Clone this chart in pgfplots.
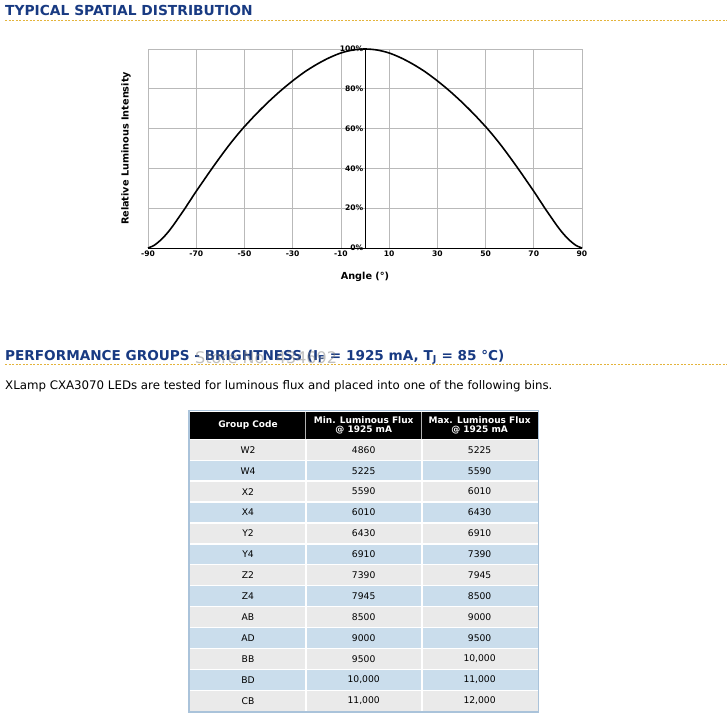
\documentclass[border=0pt]{standalone}
\usepackage{pgfplots}
\pgfplotsset{compat=1.18}
\usepackage{fontspec}
\setmainfont{DejaVu Sans}
\definecolor{titleblue}{RGB}{24,58,130}
\definecolor{gold}{RGB}{228,180,60}
\definecolor{rowgray}{RGB}{234,234,234}
\definecolor{rowblue}{RGB}{202,221,236}
\definecolor{tframe}{RGB}{170,195,218}
\definecolor{gridgray}{RGB}{185,185,185}
\begin{document}
\begin{tikzpicture}[x=1pt,y=1pt]
\useasboundingbox (0,0) rectangle (727,-719);
% Title 1
\node[anchor=base west,inner sep=0,text=titleblue,font=\fontsize{13.8}{16}\selectfont\bfseries] at (5,-15.7) {TYPICAL SPATIAL DISTRIBUTION};
\draw[gold,line width=0.8pt,dash pattern=on 2pt off 1.5pt] (5,-20.7) -- (727,-20.7);
% Chart
\begin{axis}[
  at={(148pt,-248pt)}, anchor=south west,
  scale only axis, width=434pt, height=199pt,
  xmin=-90, xmax=90, ymin=0, ymax=100,
  xtick={-90,-70,-50,-30,-10,10,30,50,70,90},
  xticklabels={-90,-70,-50,-30,-10,10,30,50,70,90},
  ytick={0,20,40,60,80,100},
  yticklabels={0\%,20\%,40\%,60\%,80\%,100\%},
  yticklabel style={xshift=217pt,inner sep=1.5pt},
  xticklabel style={inner sep=2.5pt},
  major tick length=0pt,
  grid=major,
  grid style={gridgray,line width=0.6pt},
  axis line style={gridgray,line width=0.8pt},
  tick label style={font=\fontsize{7.6}{8.5}\selectfont\bfseries},
  xlabel={Angle (°)},
  ylabel={Relative Luminous Intensity},
  label style={font=\fontsize{9.7}{11}\selectfont\bfseries},
  xlabel style={at={(axis description cs:0.5,-0.146)},anchor=center},
  ylabel style={at={(axis description cs:-0.0507,0.5)},anchor=center},
  clip=false,
]
\addplot[black,line width=0.9pt] coordinates {(-90,0) (90,0)};
\addplot[black,line width=0.9pt] coordinates {(0,0) (0,100)};
\addplot[black,line width=1.6pt,smooth] coordinates {
(-90,0) (-87.5,1.3) (-85,3.7) (-82.5,6.8) (-80,10.6) (-77.5,14.9) (-75,19.3) (-72.5,23.9) (-70,28.5) (-67.5,32.9) (-65,37.3) (-62.5,41.6) (-60,45.8) (-57.5,49.9) (-55,53.8) (-52.5,57.5) (-50,61) (-45,67.5) (-40,73.5) (-35,79) (-30,84) (-25,88.5) (-20,92.3) (-15,95.5) (-10,98) (-5,99.5) (0,100)
(5,99.5) (10,98) (15,95.5) (20,92.3) (25,88.5) (30,84) (35,79) (40,73.5) (45,67.5) (50,61) (52.5,57.5) (55,53.8) (57.5,49.9) (60,45.8) (62.5,41.6) (65,37.3) (67.5,32.9) (70,28.5) (72.5,23.9) (75,19.3) (77.5,14.9) (80,10.6) (82.5,6.8) (85,3.7) (87.5,1.3) (90,0)};
\end{axis}
% Title 2
\node[anchor=base west,inner sep=0,text=titleblue,font=\fontsize{13.6}{16}\selectfont\bfseries] at (5,-360.7) {PERFORMANCE GROUPS - BRIGHTNESS (I\textsubscript{F} = 1925 mA, T\textsubscript{J} = 85 °C)};
\draw[gold,line width=0.8pt,dash pattern=on 2pt off 1.5pt] (5,-364.8) -- (727,-364.8);
\node[anchor=base west,inner sep=0,text=gray,opacity=0.5,font=\fontsize{16}{18}\selectfont] at (195,-363) {Store No. 434692};
\node[anchor=base west,inner sep=0,font=\fontsize{11.8}{13}\selectfont] at (5,-389.5) {XLamp CXA3070 LEDs are tested for luminous flux and placed into one of the following bins.};
% Table
\fill[black] (190,-411.5) rectangle (537.5,-439.3);
\draw[gray!60,line width=1.2pt] (305.7,-411.5) -- (305.7,-439.3);
\draw[gray!60,line width=1.2pt] (421.7,-411.5) -- (421.7,-439.3);
\node[text=white,font=\fontsize{9}{10}\selectfont\bfseries,align=center] at (248,-425.4) {Group Code};
\node[text=white,font=\fontsize{9}{9.6}\selectfont\bfseries,align=center] at (363.7,-425.4) {Min. Luminous Flux\\@ 1925 mA};
\node[text=white,font=\fontsize{9}{9.6}\selectfont\bfseries,align=center] at (479.6,-425.4) {Max. Luminous Flux\\@ 1925 mA};
\foreach \g/\mn/\mx [count=\i from 0] in {W2/4860/5225,W4/5225/5590,X2/5590/6010,X4/6010/6430,Y2/6430/6910,Y4/6910/7390,Z2/7390/7945,Z4/7945/8500,AB/8500/9000,AD/9000/9500,BB/9500/10{,}000,BD/10{,}000/11{,}000,CB/11{,}000/12{,}000}{
  \pgfmathsetmacro\yt{-439.3-\i*20.92}
  \pgfmathsetmacro\yb{\yt-20.92}
  \pgfmathsetmacro\ym{\yt-10.46}
  \ifodd\i\def\rc{rowblue}\else\def\rc{rowgray}\fi
  \fill[\rc] (190,\yt) rectangle (537.5,\yb);
  \draw[white,line width=1.3pt] (190,\yt) -- (537.5,\yt);
  \draw[white,line width=1.6pt] (305.7,\yt) -- (305.7,\yb);
  \draw[white,line width=1.6pt] (421.7,\yt) -- (421.7,\yb);
  \node[font=\fontsize{9.2}{10}\selectfont] at (248,\ym) {\g};
  \node[font=\fontsize{9.2}{10}\selectfont] at (363.7,\ym) {\mn};
  \node[font=\fontsize{9.2}{10}\selectfont] at (479.6,\ym) {\mx};
}
\draw[tframe,line width=1.5pt] (189.2,-410.7) rectangle (538.3,-712);
\end{tikzpicture}
\end{document}
